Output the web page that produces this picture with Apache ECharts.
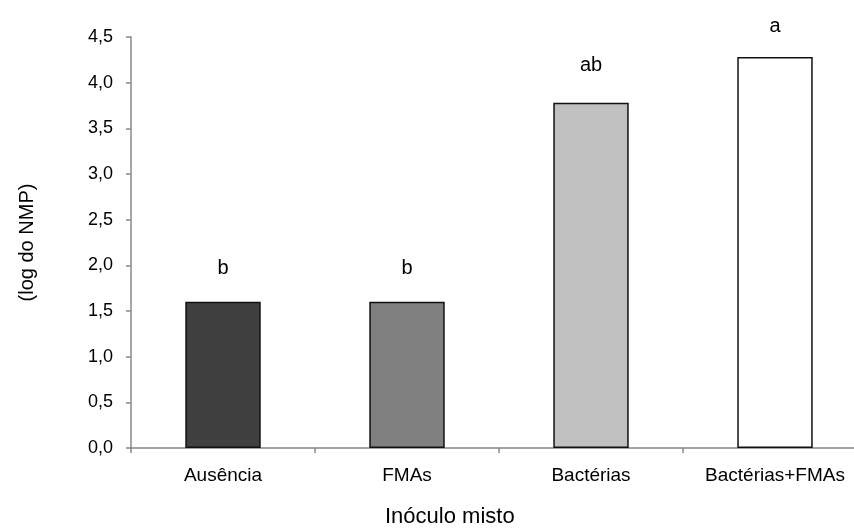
<!DOCTYPE html>
<html><head><meta charset="utf-8">
<script src="https://cdn.jsdelivr.net/npm/echarts@6/dist/echarts.min.js"></script>
<style>html,body{margin:0;padding:0;background:#fff}#c{width:854px;height:529px}</style>
</head><body><div id="c"></div>
<script>
var categories = ['Ausência', 'FMAs', 'Bactérias', 'Bactérias+FMAs'];
var values = [1.6, 1.6, 3.78, 4.28];
var letters = ['b', 'b', 'ab', 'a'];
var barColors = ['#404040', '#808080', '#c0c0c0', '#ffffff'];
var labelGaps = [23, 23, 27, 21];

var chart = echarts.init(document.getElementById('c'));
var font = 'Liberation Sans, Arial, sans-serif';
chart.setOption({
  animation: false,
  grid: { left: 131, width: 736, top: 37, height: 411, containLabel: false, outerBoundsMode: 'none' },
  graphic: [{ type: 'text', x: 385, y: 517,
    style: { text: 'Inóculo misto', font: '22px ' + font, fill: '#000', textAlign: 'left', textVerticalAlign: 'middle', verticalAlign: 'middle' } }],
  xAxis: {
    type: 'category', data: categories,
    axisLine: { lineStyle: { color: '#888', width: 1.5 } },
    axisTick: { show: true, length: 5, lineStyle: { color: '#888', width: 1.5 } },
    axisLabel: { color: '#000', fontSize: 19, fontFamily: font, margin: 18, interval: 0, hideOverlap: false }
  },
  yAxis: {
    type: 'value', min: 0, max: 4.5, interval: 0.5,
    name: '(log do NMP)', nameLocation: 'middle', nameGap: 94, nameRotate: 90,
    nameTextStyle: { color: '#000', fontSize: 20, fontFamily: font },
    splitLine: { show: false },
    axisLine: { show: true, lineStyle: { color: '#888', width: 1.5 } },
    axisTick: { show: true, length: 5, lineStyle: { color: '#888', width: 1.5 } },
    axisLabel: { color: '#000', fontSize: 18, fontFamily: font, margin: 18,
      formatter: function (v) { return v.toFixed(1).replace('.', ','); } }
  },
  series: [{
    type: 'bar', barWidth: '41%',
    data: values.map(function (v, i) {
      return { value: v, itemStyle: { color: barColors[i], borderColor: '#111', borderWidth: 1.5 },
        label: { show: true, position: 'top', distance: labelGaps[i], formatter: letters[i], color: '#000', fontSize: 20, fontFamily: font } };
    })
  }]
});
</script></body></html>
